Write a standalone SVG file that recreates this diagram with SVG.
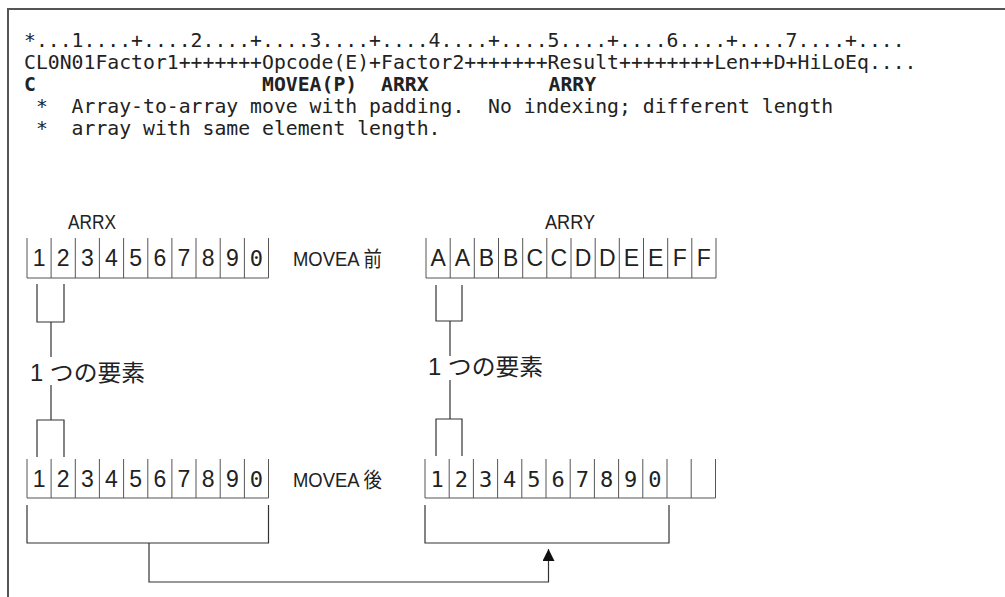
<svg xmlns="http://www.w3.org/2000/svg" width="1005" height="597" viewBox="0 0 1005 597">
<style>
.code{font-family:"DejaVu Sans Mono","Liberation Mono",monospace;font-size:18.8px;fill:#222}
.bold{font-weight:bold}
.lbl{font-family:"Liberation Sans","Noto Sans CJK JP",sans-serif;font-size:21px;fill:#222}
.jp{font-family:"Liberation Sans","Noto Sans CJK JP",sans-serif;font-size:23px;fill:#222}
.cell{font-family:"Liberation Sans",sans-serif;font-size:23px;fill:#222;text-anchor:middle}
.mono{font-family:"DejaVu Sans Mono",monospace;font-size:22px}
.grid{stroke:#555;stroke-width:1;fill:none}
.ln{stroke:#333;stroke-width:1.2;fill:none}
</style>
<defs>
<marker id="ah" viewBox="0 0 10 10" refX="10" refY="5" markerWidth="14" markerHeight="12" markerUnits="userSpaceOnUse" orient="auto"><path d="M0,0 L10,5 L0,10 Z" fill="#111"/></marker>
</defs>
<rect width="1005" height="597" fill="#fff"/>
<path d="M8,597 V9 H1005" stroke="#555" stroke-width="2" fill="none"/>
<g id="code">
<text class="code" x="24" y="47" textLength="880.6" lengthAdjust="spacingAndGlyphs">*...1....+....2....+....3....+....4....+....5....+....6....+....7....+....</text>
<text class="code" x="24" y="69" textLength="892.5" lengthAdjust="spacingAndGlyphs">CL0N01Factor1+++++++Opcode(E)+Factor2+++++++Result++++++++Len++D+HiLoEq....</text>
<text class="code bold" x="24" y="91" textLength="11.9" lengthAdjust="spacingAndGlyphs">C</text>
<text class="code bold" x="262" y="91" textLength="95.2" lengthAdjust="spacingAndGlyphs">MOVEA(P)</text>
<text class="code bold" x="381" y="91" textLength="47.6" lengthAdjust="spacingAndGlyphs">ARRX</text>
<text class="code bold" x="548.5" y="91" textLength="47.6" lengthAdjust="spacingAndGlyphs">ARRY</text>
<text class="code" x="35.9" y="113" xml:space="preserve" textLength="797.3" lengthAdjust="spacingAndGlyphs">*  Array-to-array move with padding.  No indexing; different length</text>
<text class="code" x="35.9" y="135" xml:space="preserve" textLength="404.6" lengthAdjust="spacingAndGlyphs">*  array with same element length.</text>
</g>
<g id="arrx-before">
<text class="lbl" x="68" y="229" textLength="48" lengthAdjust="spacingAndGlyphs">ARRX</text>
<path class="grid" d="M27,238V278M51.1,238V278M75.3,238V278M99.4,238V278M123.6,238V278M147.8,238V278M171.9,238V278M196,238V278M220.2,238V278M244.4,238V278M268.5,238V278M27,278H268.5"/>
<g class="cell"><text x="39.1" y="266">1</text><text x="63.2" y="266">2</text><text x="87.4" y="266">3</text><text x="111.5" y="266">4</text><text x="135.7" y="266">5</text><text x="159.8" y="266">6</text><text x="184" y="266">7</text><text x="208.1" y="266">8</text><text x="232.3" y="266">9</text><text class="mono" x="256.4" y="266">0</text></g>
</g>
<g id="movea-before"><text class="lbl" x="293" y="266" textLength="89" lengthAdjust="spacingAndGlyphs">MOVEA 前</text></g>
<g id="arry-before">
<text class="lbl" x="545" y="229" textLength="50" lengthAdjust="spacingAndGlyphs">ARRY</text>
<path class="grid" d="M426,238V278M450.2,238V278M474.3,238V278M498.5,238V278M522.7,238V278M546.8,238V278M571,238V278M595.2,238V278M619.3,238V278M643.5,238V278M667.7,238V278M691.8,238V278M716,238V278M426,278H716"/>
<g class="cell"><text x="438.1" y="266">A</text><text x="462.3" y="266">A</text><text x="486.4" y="266">B</text><text x="510.6" y="266">B</text><text x="534.8" y="266">C</text><text x="558.9" y="266">C</text><text x="583.1" y="266">D</text><text x="607.3" y="266">D</text><text x="631.4" y="266">E</text><text x="655.6" y="266">E</text><text x="679.8" y="266">F</text><text x="703.9" y="266">F</text></g>
</g>
<g id="elem-left">
<path class="ln" d="M37,284V322H64V284M51,322V357"/>
<text class="jp" x="30" y="381" textLength="115" lengthAdjust="spacingAndGlyphs">1 つの要素</text>
<path class="ln" d="M51,385V420M37,457V420H64V457"/>
</g>
<g id="elem-right">
<path class="ln" d="M436,285V321H462V285M450,321V356"/>
<text class="jp" x="428" y="375" textLength="115" lengthAdjust="spacingAndGlyphs">1 つの要素</text>
<path class="ln" d="M450,380V419M436,456V419H462V456"/>
</g>
<g id="arrx-after">
<path class="grid" d="M27,459V498M51.1,459V498M75.3,459V498M99.4,459V498M123.6,459V498M147.8,459V498M171.9,459V498M196,459V498M220.2,459V498M244.4,459V498M268.5,459V498M27,498H268.5"/>
<g class="cell"><text x="39.1" y="487">1</text><text x="63.2" y="487">2</text><text x="87.4" y="487">3</text><text x="111.5" y="487">4</text><text x="135.7" y="487">5</text><text x="159.8" y="487">6</text><text x="184" y="487">7</text><text x="208.1" y="487">8</text><text x="232.3" y="487">9</text><text class="mono" x="256.4" y="487">0</text></g>
</g>
<g id="movea-after"><text class="lbl" x="293" y="487" textLength="89" lengthAdjust="spacingAndGlyphs">MOVEA 後</text></g>
<g id="arry-after">
<path class="grid" d="M425,459V498M449.2,459V498M473.4,459V498M497.6,459V498M521.8,459V498M546,459V498M570.2,459V498M594.4,459V498M618.6,459V498M642.8,459V498M667,459V498M691.2,459V498M715.5,459V498M425,498H715.5"/>
<g class="cell mono"><text x="437.1" y="487">1</text><text x="461.3" y="487">2</text><text x="485.5" y="487">3</text><text x="509.7" y="487">4</text><text x="533.9" y="487">5</text><text x="558.1" y="487">6</text><text x="582.3" y="487">7</text><text x="606.5" y="487">8</text><text x="630.7" y="487">9</text><text x="654.9" y="487">0</text></g>
</g>
<g id="connectors">
<path class="ln" d="M27,505V543H268.5V505"/>
<path class="ln" d="M425,505V543H669V505"/>
<path class="ln" d="M149,543V582H548.5V549" marker-end="url(#ah)"/>
</g>
</svg>
